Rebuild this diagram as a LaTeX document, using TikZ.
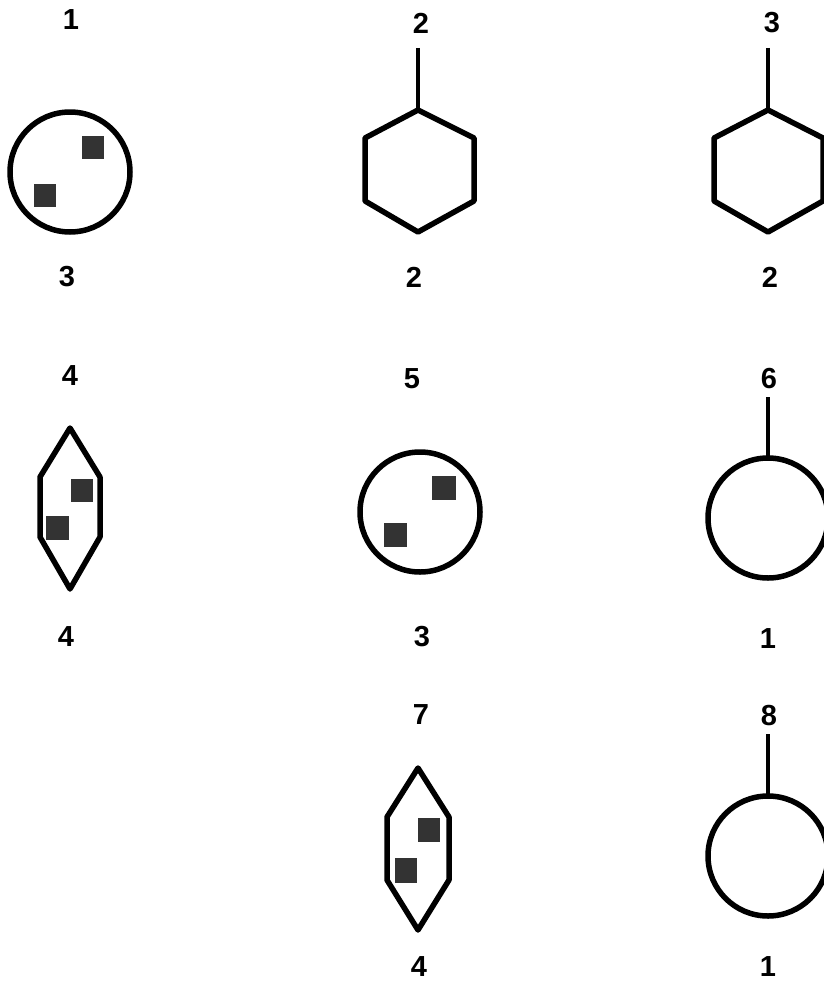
\documentclass[tikz,border=0pt]{standalone}
\usepackage{fontspec}
\setmainfont{Liberation Sans}
\begin{document}
\begin{tikzpicture}[x=1pt,y=-1pt,
  lbl/.style={font=\fontsize{29}{29}\selectfont\bfseries,inner sep=0pt,anchor=center},
  outline/.style={line width=5.5pt,line join=round,draw=black},
  stem/.style={line width=4.5pt,draw=black},
  spot/.style={fill=black!80,draw=none}]
\useasboundingbox (0,0) rectangle (824,982);
\clip (0,0) rectangle (824,982);
% labels
\node[lbl] (t1) at (71,20) {1};
\node[lbl] (b1) at (67,277) {3};
\node[lbl] (t2) at (421,23) {2};
\node[lbl] (b2) at (414,277) {2};
\node[lbl] (t3) at (772,23) {3};
\node[lbl] (b3) at (770,277) {2};
\node[lbl] (t4) at (70,376) {4};
\node[lbl] (b4) at (66,637) {4};
\node[lbl] (t5) at (412,379) {5};
\node[lbl] (b5) at (422,637) {3};
\node[lbl] (t6) at (769,379) {6};
\node[lbl] (b6) at (768,639) {1};
\node[lbl] (t7) at (421,715) {7};
\node[lbl] (b7) at (419,967) {4};
\node[lbl] (t8) at (769,716) {8};
\node[lbl] (b8) at (768,967) {1};
% panel 1: circle with two spots
\draw[outline] (70,172) circle (60);
\fill[spot] (82,136) rectangle (104,159);
\fill[spot] (34,184) rectangle (56,207);
% panel 2: hexagon with stem
\draw[stem] (418,48) -- (418,110);
\draw[outline] (418,110) -- (474,138) -- (474,201) -- (418,232) -- (365,201) -- (365,138) -- cycle;
% panel 3: hexagon with stem
\draw[stem] (768,48) -- (768,110);
\draw[outline] (768,110) -- (823,138) -- (823,201) -- (768,232) -- (714,201) -- (714,138) -- cycle;
% panel 4: elongated hexagon with spots
\draw[outline] (70,428) -- (100,477) -- (100,537) -- (70,589) -- (40,537) -- (40,477) -- cycle;
\fill[spot] (71,479) rectangle (93,502);
\fill[spot] (46,516) rectangle (69,540);
% panel 5: circle with spots
\draw[outline] (420,512) circle (60);
\fill[spot] (432,476) rectangle (456,500);
\fill[spot] (384,523) rectangle (407,547);
% panel 6: circle with stem
\draw[stem] (768,397) -- (768,458);
\draw[outline] (768,518) circle (60);
% panel 7: elongated hexagon with spots
\draw[outline] (418,768) -- (449,817) -- (449,880) -- (418,930) -- (387,880) -- (387,817) -- cycle;
\fill[spot] (418,818) rectangle (440,842);
\fill[spot] (395,858) rectangle (417,883);
% panel 8: circle with stem
\draw[stem] (768,734) -- (768,796);
\draw[outline] (768,856) circle (60);
\end{tikzpicture}
\end{document}
